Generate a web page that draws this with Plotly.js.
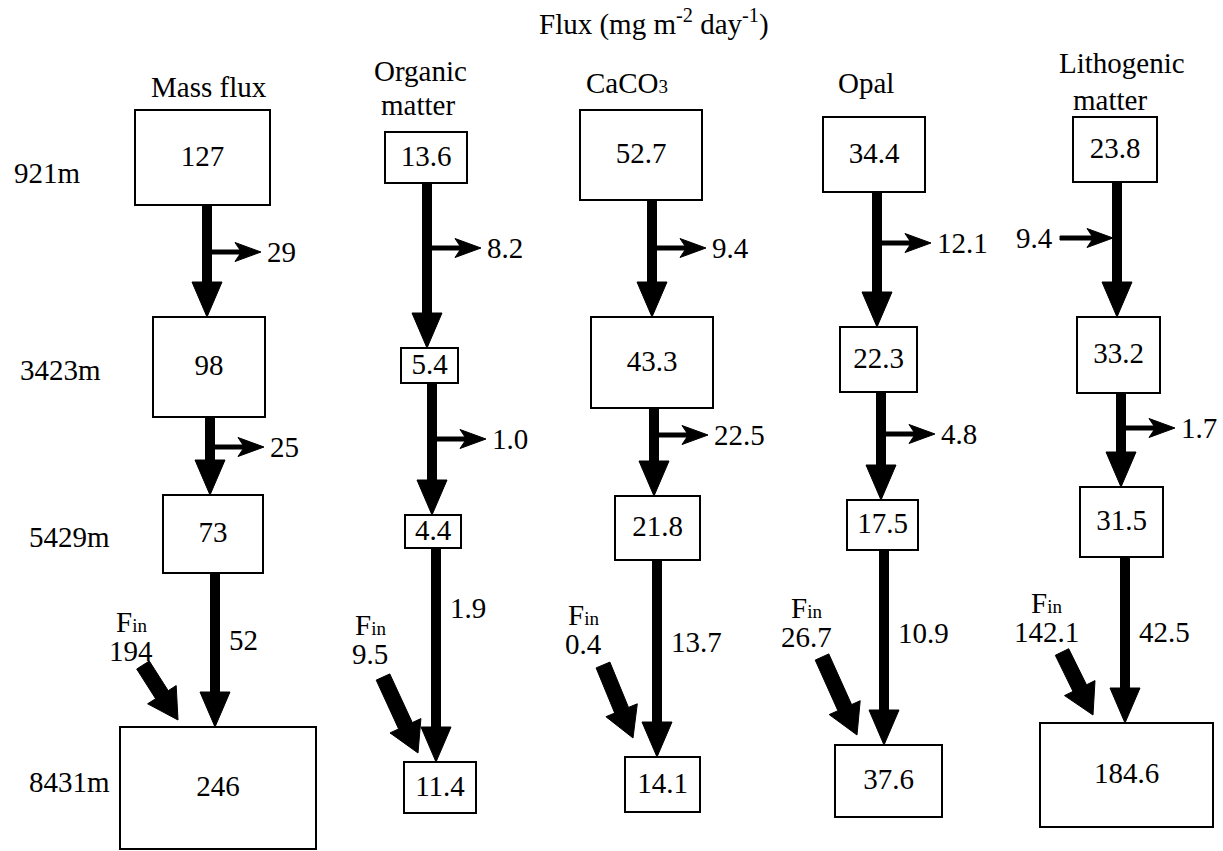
<!DOCTYPE html>
<html>
<head>
<meta charset="utf-8">
<script src="https://cdn.plot.ly/plotly-3.0.1.min.js"></script>
<style>
  html, body { margin: 0; padding: 0; background: #ffffff; }
  #chart { width: 1223px; height: 851px; }
</style>
</head>
<body>
<div id="chart"></div>
<script>
// ---------------- DATA ----------------
const chartTitle = "Flux (mg m<sup>-2</sup> day<sup>-1</sup>)";
const columns = ["Mass flux", "Organic matter", "CaCO3", "Opal", "Lithogenic matter"];
const depths = ["921m", "3423m", "5429m", "8431m"];
const massFlux = [127, 98, 73, 246];
const organicMatter = [13.6, 5.4, 4.4, 11.4];
const caco3 = [52.7, 43.3, 21.8, 14.1];
const opal = [34.4, 22.3, 17.5, 37.6];
const lithogenicMatter = [23.8, 33.2, 31.5, 184.6];
const lateralUpper = [29, 8.2, 9.4, 12.1, 9.4];   // between 921m and 3423m
const lateralLower = [25, 1.0, 22.5, 4.8, 1.7];   // between 3423m and 5429m
const deepFlux = [52, 1.9, 13.7, 10.9, 42.5];      // 5429m -> 8431m
const finFlux = [194, 9.5, 0.4, 26.7, 142.1];      // lateral input at 8431m
const decimals = [0, 1, 1, 1, 1];

// ---------------- LAYOUT GEOMETRY (pixel-space axes) ----------------
const W = 1223, H = 851;
const FONT = "Liberation Serif";
const FS = 29;
// box centre x, centre y, width, height per column per depth
const boxGeom = [
  [[202.5, 157.5, 135, 95], [209, 367, 112, 100], [213, 534, 100, 78], [218, 788, 196, 122]],
  [[426, 157.5, 82, 51], [429.5, 365.5, 57, 35], [433, 531.5, 56, 33], [440, 787.5, 72, 51]],
  [[641, 155, 122, 90], [652, 362.5, 122, 91], [657.5, 528, 85, 64], [662.5, 784.5, 75, 55]],
  [[874, 154.5, 102, 75], [878.5, 359.5, 77, 65], [882.5, 525, 71, 50], [888.5, 781, 107, 72]],
  [[1115, 149.5, 84, 65], [1118.5, 355, 83, 76], [1121.5, 522, 83, 70], [1126.5, 775, 173, 104]]
];
const shaftX = [[207, 210, 215], [427, 432, 436], [652, 654, 657], [877, 881, 884], [1117, 1121, 1125]];
const lateralY = [[252, 447], [248, 439], [248, 435], [243, 434], [238, 428]];
const lateralDir = [["out", "out"], ["out", "out"], ["out", "out"], ["out", "out"], ["in", "out"]];
const deepLabelY = [640, 608, 642, 633, 632];
const finLabelX = [131, 370, 583, 806, 1046];
const finLabelY = [622, 625, 615, 608, 603];
const finTail = [[143, 665], [383, 677], [603, 665], [822, 657], [1062, 652]];
const finTip = [[178, 720], [418, 753], [633, 738], [857, 735], [1093, 715]];
// header line positions: one [x, y] per printed line
const headerPos = [
  [[209, 87]],
  [[420, 71], [418, 105]],
  [[627, 83]],
  [[866, 83]],
  [[1122, 63], [1110, 100]]
];
const depthX = [12, 18, 27, 27];
const depthY = [173, 370, 537, 782];

const series = [massFlux, organicMatter, caco3, opal, lithogenicMatter];
const fmt = (v, d) => v.toFixed(d);
const chem = s => s.replace(/([A-Za-z])(\d)/g, '$1<span style="font-size:19px">$2</span>');

const shapes = [];
const annotations = [];

function poly(pts) {
  return "M " + pts.map(p => p[0].toFixed(1) + "," + p[1].toFixed(1)).join(" L ") + " Z";
}
function addPoly(pts) {
  shapes.push({ type: "path", xref: "x", yref: "y", path: poly(pts),
    fillcolor: "#000", line: { color: "#000", width: 1 } });
}
function downArrow(x, y0, y1) {
  const sw = 4.5, hw = 15, hl = 35;
  const yh = y1 - hl;
  addPoly([[x - sw, y0], [x + sw, y0], [x + sw, yh], [x + hw, yh], [x, y1], [x - hw, yh], [x - sw, yh]]);
}
function sideArrow(x0, x1, y) {
  const dir = Math.sign(x1 - x0);
  const sw = 2, hw = 9.5, hl = 26, notch = 5;
  const xh = x1 - dir * hl;
  addPoly([[x0, y - sw], [xh + dir * notch, y - sw], [xh, y - hw], [x1, y], [xh, y + hw], [xh + dir * notch, y + sw], [x0, y + sw]]);
}
function thickArrow(t, p) {
  const dx = p[0] - t[0], dy = p[1] - t[1];
  const L = Math.hypot(dx, dy);
  const ux = dx / L, uy = dy / L, nx = -uy, ny = ux;
  const sw = 7.5, hw = 17, hl = 30;
  const bx = p[0] - ux * hl, by = p[1] - uy * hl;
  addPoly([
    [t[0] + nx * sw, t[1] + ny * sw], [bx + nx * sw, by + ny * sw], [bx + nx * hw, by + ny * hw],
    [p[0], p[1]],
    [bx - nx * hw, by - ny * hw], [bx - nx * sw, by - ny * sw], [t[0] - nx * sw, t[1] - ny * sw]
  ]);
}
function label(text, x, y, xanchor, size) {
  annotations.push({ text: text, x: x, y: y, xref: "x", yref: "y", showarrow: false,
    xanchor: xanchor || "center", yanchor: "middle",
    font: { family: FONT, size: size || FS, color: "#000" } });
}

const textX = [], textY = [], textV = [];
series.forEach((vals, c) => {
  vals.forEach((v, d) => {
    const g = boxGeom[c][d];
    shapes.push({ type: "rect", xref: "x", yref: "y",
      x0: g[0] - g[2] / 2, x1: g[0] + g[2] / 2, y0: g[1] - g[3] / 2, y1: g[1] + g[3] / 2,
      line: { color: "#000", width: 2 }, fillcolor: "rgba(0,0,0,0)" });
    textX.push(g[0]); textY.push(g[1] + 1); textV.push(fmt(v, decimals[c]));
  });
  // vertical flux arrows
  for (let s = 0; s < 3; s++) {
    const up = boxGeom[c][s], lo = boxGeom[c][s + 1];
    downArrow(shaftX[c][s], up[1] + up[3] / 2, lo[1] - lo[3] / 2);
  }
  // lateral arrows
  [lateralUpper, lateralLower].forEach((arr, k) => {
    const x = shaftX[c][k], y = lateralY[c][k];
    if (lateralDir[c][k] === "out") {
      sideArrow(x + 3, x + 54, y);
      label(fmt(arr[c], decimals[c]), x + 58, y, "left");
    } else {
      sideArrow(x - 57, x - 4, y);
      label(fmt(arr[c], decimals[c]), x - 62, y, "right");
    }
  });
  // deep flux label
  label(fmt(deepFlux[c], decimals[c]), shaftX[c][2] + 12, deepLabelY[c], "left");
  // Fin input
  label("F<span style=\"font-size:19px\">in</span>", finLabelX[c], finLabelY[c], "center");
  label(fmt(finFlux[c], decimals[c]), finLabelX[c], finLabelY[c] + 29, "center");
  thickArrow(finTail[c], finTip[c]);
  // header (split onto lines where the layout gives two positions)
  const pos = headerPos[c];
  const words = columns[c].split(" ");
  const lines = pos.length === 1 ? [columns[c]] : [words.slice(0, -1).join(" "), words[words.length - 1]];
  lines.forEach((ln, i) => label(chem(ln), pos[i][0], pos[i][1], "center"));
});

depths.forEach((d, i) => label(d, depthX[i], depthY[i], "left"));
label(chartTitle, 654, 22, "center");

const trace = {
  type: "scatter", mode: "text", x: textX, y: textY, text: textV,
  textposition: "middle center", hoverinfo: "skip",
  textfont: { family: FONT, size: FS, color: "#000" }, showlegend: false
};

const layout = {
  width: W, height: H,
  margin: { l: 0, r: 0, t: 0, b: 0, pad: 0 },
  paper_bgcolor: "#fff", plot_bgcolor: "#fff",
  font: { family: FONT, size: FS, color: "#000" },
  xaxis: { range: [0, W], visible: false, fixedrange: true },
  yaxis: { range: [H, 0], visible: false, fixedrange: true },
  shapes: shapes, annotations: annotations, showlegend: false
};

Plotly.newPlot("chart", [trace], layout, { staticPlot: true, displayModeBar: false });
</script>
</body>
</html>
